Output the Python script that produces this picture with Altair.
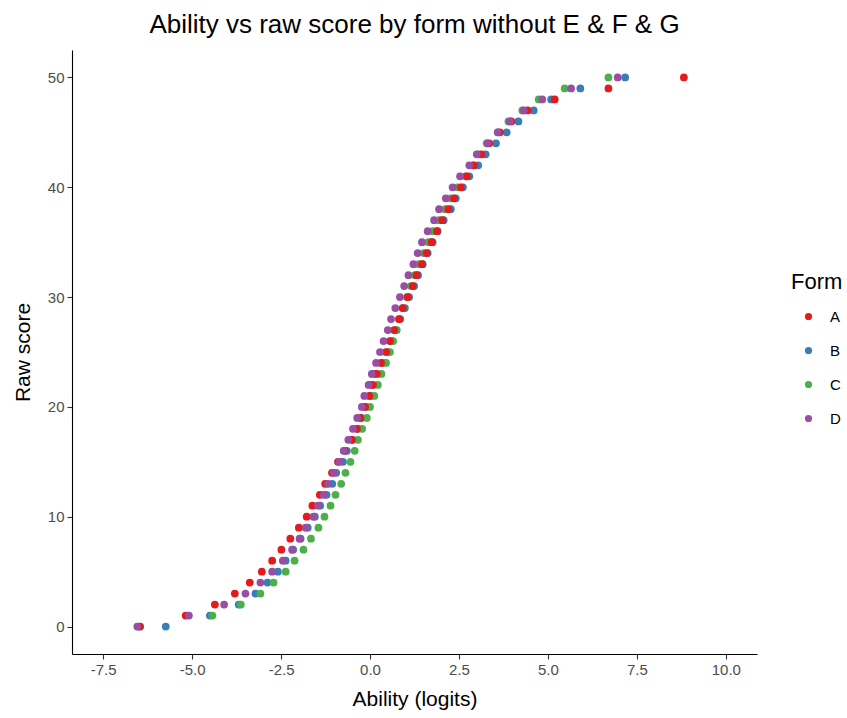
import altair as alt
import pandas as pd

scores = list(range(51))

form_a = [-6.46, -5.18, -4.36, -3.80, -3.38, -3.04, -2.75, -2.49, -2.24, -2.00,
          -1.78, -1.62, -1.41, -1.26, -1.07, -0.90, -0.71, -0.51, -0.37, -0.27,
          -0.14, -0.02, 0.08, 0.19, 0.31, 0.45, 0.56, 0.68, 0.82, 0.92,
          1.06, 1.20, 1.31, 1.46, 1.59, 1.73, 1.88, 2.03, 2.20, 2.36,
          2.55, 2.72, 2.92, 3.13, 3.35, 3.65, 3.97, 4.43, 5.19, 6.70, 8.82]
form_b = [-5.74, -4.50, -3.69, -3.22, -2.88, -2.59, -2.37, -2.16, -1.95, -1.75,
          -1.55, -1.40, -1.22, -1.06, -0.95, -0.76, -0.65, -0.49, -0.34, -0.25,
          -0.13, 0.01, 0.03, 0.12, 0.36, 0.50, 0.61, 0.75, 0.85, 0.98,
          1.10, 1.24, 1.35, 1.48, 1.62, 1.76, 1.90, 2.07, 2.27, 2.41,
          2.61, 2.79, 3.04, 3.25, 3.54, 3.84, 4.17, 4.60, 5.09, 5.91, 7.17]
form_c = [-6.50, -4.43, -3.63, -3.08, -2.71, -2.37, -2.12, -1.87, -1.66, -1.45,
          -1.28, -1.11, -0.97, -0.81, -0.69, -0.55, -0.43, -0.34, -0.22, -0.09,
          0.00, 0.12, 0.22, 0.32, 0.45, 0.56, 0.65, 0.73, 0.81, 0.92,
          1.04, 1.15, 1.26, 1.37, 1.51, 1.64, 1.77, 1.94, 2.11, 2.27,
          2.46, 2.69, 2.88, 3.05, 3.28, 3.59, 3.89, 4.28, 4.74, 5.47, 6.70]
form_d = [-6.54, -5.09, -4.10, -3.50, -3.08, -2.75, -2.45, -2.19, -1.98, -1.81,
          -1.59, -1.46, -1.30, -1.18, -1.02, -0.86, -0.74, -0.61, -0.48, -0.36,
          -0.23, -0.16, -0.04, 0.05, 0.17, 0.28, 0.38, 0.50, 0.59, 0.71,
          0.84, 0.96, 1.08, 1.22, 1.34, 1.46, 1.62, 1.80, 1.94, 2.13,
          2.32, 2.53, 2.79, 3.00, 3.30, 3.59, 3.93, 4.32, 4.84, 5.65, 6.96]

forms = ["A", "B", "C", "D"]
colors = ["#E41A1C", "#377EB8", "#4DAF4A", "#984EA3"]
x_ticks = [-7.5, -5.0, -2.5, 0.0, 2.5, 5.0, 7.5, 10.0]
y_ticks = [0, 10, 20, 30, 40, 50]

series = {"A": form_a, "B": form_b, "C": form_c, "D": form_d}
draw_order = ["B", "C", "A", "D"]
rows = []
for f in draw_order:
    for s, v in zip(scores, series[f]):
        rows.append({"Form": f, "Ability": v, "Raw score": s})
df = pd.DataFrame(rows)

FONT = "Liberation Sans"

chart = (
    alt.Chart(df)
    .mark_circle(size=60, opacity=1)
    .encode(
        x=alt.X(
            "Ability:Q",
            title="Ability (logits)",
            scale=alt.Scale(domain=[-8.375, 10.875], nice=False, zero=False),
            axis=alt.Axis(
                values=x_ticks,
                format=".1f",
                labelExpr="replace(datum.label, '\u2212', '-')",
            ),
        ),
        y=alt.Y(
            "Raw score:Q",
            title="Raw score",
            scale=alt.Scale(domain=[-2.5, 52.5], nice=False, zero=False),
            axis=alt.Axis(values=y_ticks),
        ),
        color=alt.Color(
            "Form:N",
            scale=alt.Scale(domain=forms, range=colors),
            legend=alt.Legend(
                title="Form",
                orient="none",
                legendX=719,
                legendY=222,
                symbolType="circle",
                symbolSize=52,
                symbolStrokeWidth=0,
                symbolOffset=10,
                labelOffset=14,
                rowPadding=18,
                titlePadding=15,
                titleFontSize=22,
                titleFontWeight="normal",
                titleFont=FONT,
                titleColor="#000000",
                labelFontSize=15,
                labelFont=FONT,
                labelColor="#000000",
            ),
        ),
    )
    .properties(
        width=685,
        height=604,
        title=alt.TitleParams(
            "Ability vs raw score by form without E & F & G",
            anchor="middle",
            fontSize=26,
            font=FONT,
            fontWeight="normal",
            color="#000000",
            offset=12,
        ),
        autosize=alt.AutoSizeParams(type="none"),
        padding={"left": 72, "top": 50, "right": 90, "bottom": 64},
    )
    .configure_view(stroke=None)
    .configure_axis(
        grid=False,
        domainColor="#000000",
        domainWidth=1.1,
        tickColor="#333333",
        tickSize=5,
        tickWidth=1.1,
        labelFont=FONT,
        labelFontSize=15,
        labelColor="#4D4D4D",
        labelPadding=3,
        titleFont=FONT,
        titleFontSize=21,
        titleFontWeight="normal",
        titleColor="#000000",
    )
    .configure_axisX(titlePadding=11)
    .configure_axisY(titlePadding=14)
)

chart.save("out.html", embed_options={"renderer": "svg", "actions": False})
